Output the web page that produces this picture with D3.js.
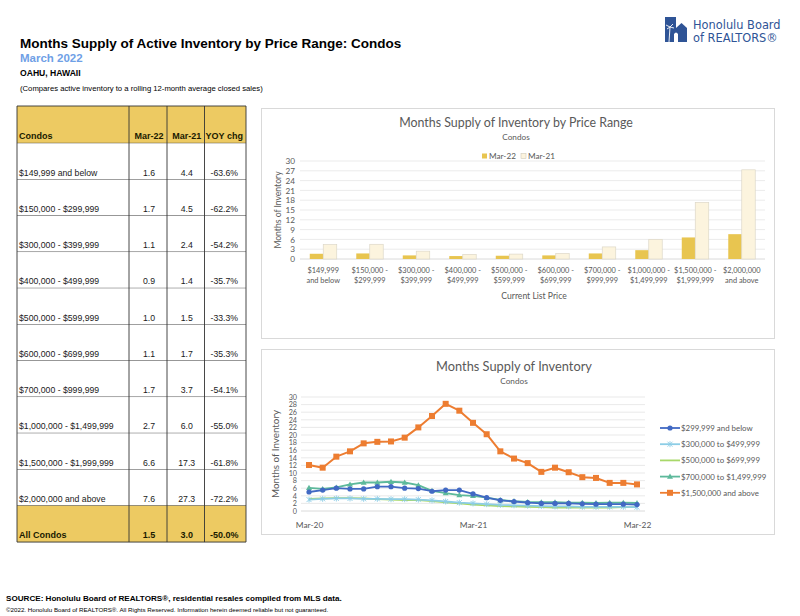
<!DOCTYPE html>
<html><head><meta charset="utf-8">
<script src="https://cdn.jsdelivr.net/npm/d3@7/dist/d3.min.js"></script>
<style>
html,body{margin:0;padding:0;background:#fff;}
svg{display:block;}
</style></head>
<body>
<svg id="c" width="800" height="616"></svg>
<script>
// ---------------- DATA ----------------
const priceRanges = ["$149,999 and below","$150,000 - $299,999","$300,000 - $399,999","$400,000 - $499,999","$500,000 - $599,999","$600,000 - $699,999","$700,000 - $999,999","$1,000,000 - $1,499,999","$1,500,000 - $1,999,999","$2,000,000 and above"];
const mar22 = [1.6,1.7,1.1,0.9,1.0,1.1,1.7,2.7,6.6,7.6];
const mar21 = [4.4,4.5,2.4,1.4,1.5,1.7,3.7,6.0,17.3,27.3];
const yoyChg = ["-63.6%","-62.2%","-54.2%","-35.7%","-33.3%","-35.3%","-54.1%","-55.0%","-61.8%","-72.2%"];
const allCondos = ["All Condos","1.5","3.0","-50.0%"];
const tableHeader = ["Condos","Mar-22","Mar-21","YOY chg"];

const barCatLabels = [["$149,999","and below"],["$150,000 -","$299,999"],["$300,000 -","$399,999"],["$400,000 -","$499,999"],["$500,000 -","$599,999"],["$600,000 -","$699,999"],["$700,000 -","$999,999"],["$1,000,000 -","$1,499,999"],["$1,500,000 -","$1,999,999"],["$2,000,000","and above"]];
const barSeries = ["Mar-22","Mar-21"];
const barTicks = [0,3,6,9,12,15,18,21,24,27,30];

const months = ["Mar-20","Apr-20","May-20","Jun-20","Jul-20","Aug-20","Sep-20","Oct-20","Nov-20","Dec-20","Jan-21","Feb-21","Mar-21","Apr-21","May-21","Jun-21","Jul-21","Aug-21","Sep-21","Oct-21","Nov-21","Dec-21","Jan-22","Feb-22","Mar-22"];
const monthTicks = ["Mar-20","Mar-21","Mar-22"];
const lineTicks = [0,2,4,6,8,10,12,14,16,18,20,22,24,26,28,30];
const lineNames = ["$299,999 and below","$300,000 to $499,999","$500,000 to $699,999","$700,000 to $1,499,999","$1,500,000 and above"];
const s299 = [5.0,5.5,6.0,5.8,5.8,6.4,6.4,6.0,5.9,5.2,5.5,5.5,4.5,3.5,2.8,2.5,2.2,2.0,2.0,2.0,1.9,1.8,1.8,1.8,1.7];
const s499 = [3.0,3.2,3.3,3.3,3.2,3.2,3.1,3.1,3.0,2.8,2.5,2.2,2.0,1.8,1.6,1.5,1.4,1.3,1.2,1.2,1.1,1.1,1.1,1.1,1.0];
const s699 = [3.2,3.3,3.4,3.4,3.3,3.1,3.0,2.9,2.9,2.6,2.3,2.0,1.7,1.5,1.3,1.2,1.1,1.0,0.9,0.9,0.9,0.9,0.9,1.0,1.0];
const s1499 = [6.1,5.8,6.2,7.0,7.5,7.5,7.7,7.5,6.8,5.3,4.7,4.2,4.0,3.5,2.9,2.6,2.4,2.3,2.3,2.2,2.2,2.1,2.2,2.2,2.1];
const s1500 = [12.1,11.4,14.3,15.7,17.8,18.2,18.3,19.3,22.0,25.0,28.2,26.4,23.2,20.2,15.7,13.8,12.6,10.3,11.4,10.2,8.9,8.7,7.4,7.4,7.0];
const lineData = [s299,s499,s699,s1499,s1500];

// ---------------- STYLE ----------------
const gold = "#EDCA62", barGold = "#E8C550", cream = "#FCF4DE";
const lineColors = ["#4169C3","#8CCDE6","#A8D86A","#5DB99B","#ED7D31"];
const lineMarkers = ["circle","cross","none","triangle","square"];
const chartFont = "Lato, 'Open Sans', sans-serif";
const gray = "#595959";

const svg = d3.select("#c");

// ---------------- HEADER ----------------
svg.append("text").attr("x",20).attr("y",48).attr("font-family","Liberation Sans, Arial").attr("font-weight","bold").attr("font-size",13.5).attr("fill","#000").text("Months Supply of Active Inventory by Price Range: Condos");
svg.append("text").attr("x",20).attr("y",62).attr("font-family","Liberation Sans, Arial").attr("font-weight","bold").attr("font-size",11.5).attr("fill","#6FA0E6").text("March 2022");
svg.append("text").attr("x",20).attr("y",76).attr("font-family","Liberation Sans, Arial").attr("font-weight","bold").attr("font-size",8.6).attr("fill","#000").text("OAHU, HAWAII");
svg.append("text").attr("x",20).attr("y",91).attr("font-family","Liberation Sans, Arial").attr("font-size",7.7).attr("fill","#000").text("(Compares active inventory to a rolling 12-month average closed sales)");

// logo
const logo = svg.append("g").attr("fill","#2F5496");
logo.append("rect").attr("x",665).attr("y",17).attr("width",11).attr("height",25);
logo.append("path").attr("d","M676 42 L676 28 L681.5 23 L687 28 L687 42 Z");
logo.append("path").attr("d","M674 42 L674 34 Q676 31 678 34 L678 42 Z").attr("fill","#fff");
logo.append("path").attr("d","M669 42 L670 27 M670 27 L666 25 M670 27 L673 24 M670 27 L667 29 M670 27 L674 28").attr("stroke","#fff").attr("stroke-width",0.9).attr("fill","none");
logo.append("text").attr("x",693).attr("y",29).attr("font-family","DejaVu Sans, Verdana").attr("font-size",11.4).attr("fill","#2F5496").text("Honolulu Board");
logo.append("text").attr("x",693).attr("y",41.5).attr("font-family","DejaVu Sans, Verdana").attr("font-size",11.4).attr("fill","#2F5496").text("of REALTORS®");

// ---------------- TABLE ----------------
const colX = [17,129,167,204.5,246];
const tTop = 106, hdrH = 37.3, rowH = 36.25;
const tbl = svg.append("g").attr("font-family","Liberation Sans, Arial");
const rows = priceRanges.map((p,i)=>[p, mar22[i].toFixed(1), mar21[i].toFixed(1), yoyChg[i]]);
const allRows = [tableHeader].concat(rows).concat([allCondos]);
allRows.forEach((r,i)=>{
  const y0 = i===0 ? tTop : tTop + hdrH + (i-1)*rowH;
  const h = i===0 ? hdrH : rowH;
  const isGold = (i===0 || i===allRows.length-1);
  tbl.append("rect").attr("x",colX[0]).attr("y",y0).attr("width",colX[4]-colX[0]).attr("height",h).attr("fill",isGold?gold:"#fff");
  r.forEach((t,j)=>{
    const bold = isGold;
    const tx = j===0 ? colX[0]+2 : (colX[j]+colX[j+1])/2 + (j===3?-1:1);
    tbl.append("text").attr("x",tx).attr("y",y0+h-4)
      .attr("text-anchor",j===0?"start":"middle")
      .attr("font-size", bold?9:8.7).attr("font-weight",bold?"bold":"normal")
      .attr("fill",bold?"#1a1a00":"#1a1a1a").text(t);
  });
  tbl.append("line").attr("x1",colX[0]).attr("x2",colX[4]).attr("y1",y0+h).attr("y2",y0+h).attr("stroke","#333").attr("stroke-width",0.9);
});
const tBottom = tTop + hdrH + 11*rowH;
tbl.append("line").attr("x1",colX[0]).attr("x2",colX[4]).attr("y1",tTop).attr("y2",tTop).attr("stroke","#333").attr("stroke-width",0.9);
colX.forEach(x=>tbl.append("line").attr("x1",x).attr("x2",x).attr("y1",tTop).attr("y2",tBottom).attr("stroke","#333").attr("stroke-width",0.9));

// ---------------- PANELS ----------------
svg.append("rect").attr("x",261.5).attr("y",108.5).attr("width",513).attr("height",230).attr("fill","#fff").attr("stroke","#D9D9D9");
svg.append("rect").attr("x",261.5).attr("y",349.5).attr("width",513).attr("height",185).attr("fill","#fff").attr("stroke","#D9D9D9");

// ---------------- BAR CHART ----------------
const bg = svg.append("g").attr("font-family",chartFont);
bg.append("text").attr("x",516).attr("y",127).attr("text-anchor","middle").attr("font-size",12.4).attr("fill",gray).text("Months Supply of Inventory by Price Range");
bg.append("text").attr("x",516).attr("y",140).attr("text-anchor","middle").attr("font-size",8.2).attr("fill",gray).text("Condos");

const xb = d3.scaleBand().domain(priceRanges).range([300,765]);
const yb = d3.scaleLinear().domain([0,30]).range([259,161]);
const xs = d3.scaleBand().domain(barSeries).range([xb.bandwidth()*0.21, xb.bandwidth()*0.79]);

bg.append("g").selectAll("line").data(barTicks).join("line")
  .attr("x1",300).attr("x2",765).attr("y1",d=>yb(d)).attr("y2",d=>yb(d))
  .attr("stroke",d=>d===0?"#D0D0D0":"#E6E6E6").attr("stroke-width",0.8);
const yAxB = bg.append("g").attr("transform","translate(300,0)").call(d3.axisLeft(yb).tickValues(barTicks).tickSize(0).tickPadding(5));
yAxB.select(".domain").remove();
yAxB.selectAll("text").attr("font-size",8.2).attr("fill",gray).attr("font-family",chartFont);

const barVals = [mar22, mar21];
barSeries.forEach((s,si)=>{
  bg.append("g").selectAll("rect").data(priceRanges).join("rect")
    .attr("x",d=>xb(d)+xs(s)).attr("width",xs.bandwidth())
    .attr("y",(d,i)=>yb(barVals[si][i])).attr("height",(d,i)=>yb(0)-yb(barVals[si][i]))
    .attr("fill",si===0?barGold:cream).attr("stroke",si===0?"none":"#DDD8C8").attr("stroke-width",0.7);
});
const xlab = bg.append("g");
priceRanges.forEach((p,i)=>{
  const t = xlab.append("text").attr("x",xb(p)+xb.bandwidth()/2).attr("y",273).attr("text-anchor","middle").attr("font-size",7.4).attr("fill",gray);
  t.append("tspan").attr("x",xb(p)+xb.bandwidth()/2).attr("dy",0).text(barCatLabels[i][0]);
  t.append("tspan").attr("x",xb(p)+xb.bandwidth()/2).attr("dy",10.3).text(barCatLabels[i][1]);
});
bg.append("text").attr("x",534).attr("y",299).attr("text-anchor","middle").attr("font-size",8.6).attr("fill",gray).text("Current List Price");
bg.append("text").attr("transform","translate(281,210) rotate(-90)").attr("text-anchor","middle").attr("font-size",8.6).attr("fill",gray).text("Months of Inventory");
// legend
const lgB = bg.append("g");
[[482,"Mar-22",barGold,"none"],[521,"Mar-21",cream,"#CFCABB"]].forEach(d=>{
  lgB.append("rect").attr("x",d[0]).attr("y",153.5).attr("width",5).attr("height",5).attr("fill",d[2]).attr("stroke",d[3]).attr("stroke-width",0.6);
  lgB.append("text").attr("x",d[0]+7).attr("y",159).attr("font-size",8.2).attr("fill",gray).text(d[1]);
});

// ---------------- LINE CHART ----------------
const lg = svg.append("g").attr("font-family",chartFont);
lg.append("text").attr("x",514).attr("y",371).attr("text-anchor","middle").attr("font-size",12.8).attr("fill",gray).text("Months Supply of Inventory");
lg.append("text").attr("x",514).attr("y",384).attr("text-anchor","middle").attr("font-size",8.2).attr("fill",gray).text("Condos");

const xl = d3.scalePoint().domain(months).range([309,637]);
const yl = d3.scaleLinear().domain([0,30]).range([511,397]);
lg.append("g").selectAll("line").data(lineTicks).join("line")
  .attr("x1",301).attr("x2",645).attr("y1",d=>yl(d)).attr("y2",d=>yl(d))
  .attr("stroke",d=>d===0?"#D0D0D0":"#E3E3E3").attr("stroke-width",0.8);
const yAxL = lg.append("g").attr("transform","translate(301,0)").call(d3.axisLeft(yl).tickValues(lineTicks).tickSize(0).tickPadding(4));
yAxL.select(".domain").remove();
yAxL.selectAll("text").attr("font-size",7.2).attr("fill",gray).attr("font-family",chartFont);
const xAxL = lg.append("g").attr("transform","translate(0,517)").call(d3.axisBottom(xl).tickValues(monthTicks).tickSize(0).tickPadding(5));
xAxL.select(".domain").remove();
xAxL.selectAll("text").attr("font-size",8.4).attr("fill",gray).attr("font-family",chartFont);
lg.append("text").attr("transform","translate(279,454) rotate(-90)").attr("text-anchor","middle").attr("font-size",9.8).attr("fill",gray).text("Months of Inventory");

const lineGen = d3.line().x((d,i)=>xl(months[i])).y(d=>yl(d));
function marker(g, type, x, y, col){
  if(type==="circle") g.append("circle").attr("cx",x).attr("cy",y).attr("r",2.6).attr("fill",col);
  else if(type==="square") g.append("rect").attr("x",x-3).attr("y",y-3).attr("width",6).attr("height",6).attr("fill",col);
  else if(type==="triangle") g.append("path").attr("d",`M${x},${y-3} L${x+3},${y+2.2} L${x-3},${y+2.2} Z`).attr("fill",col);
  else if(type==="cross") g.append("path").attr("d",`M${x-2.5},${y-2.5} L${x+2.5},${y+2.5} M${x-2.5},${y+2.5} L${x+2.5},${y-2.5} M${x},${y-3} L${x},${y+3}`).attr("stroke",col).attr("stroke-width",0.9);
}
const order = [2,1,3,0,4];
order.forEach(k=>{
  const g = lg.append("g");
  g.append("path").datum(lineData[k]).attr("d",lineGen).attr("fill","none").attr("stroke",lineColors[k]).attr("stroke-width",k===4?2:1.8).attr("stroke-linejoin","round");
  lineData[k].forEach((v,i)=>marker(g,lineMarkers[k],xl(months[i]),yl(v),lineColors[k]));
});
// legend
lineNames.forEach((n,k)=>{
  const y = 428 + k*16.2;
  const g = lg.append("g");
  g.append("line").attr("x1",660).attr("x2",680).attr("y1",y).attr("y2",y).attr("stroke",lineColors[k]).attr("stroke-width",1.8);
  marker(g,lineMarkers[k],670,y,lineColors[k]);
  g.append("text").attr("x",681).attr("y",y+3).attr("font-size",7.9).attr("fill",gray).text(n);
});

// ---------------- FOOTER ----------------
svg.append("text").attr("x",6).attr("y",601).attr("font-family","Liberation Sans, Arial").attr("font-weight","bold").attr("font-size",8.1).attr("fill","#000").text("SOURCE: Honolulu Board of REALTORS®, residential resales compiled from MLS data.");
svg.append("text").attr("x",6).attr("y",612).attr("font-family","Liberation Sans, Arial").attr("font-size",6.2).attr("fill","#000").text("©2022. Honolulu Board of REALTORS®. All Rights Reserved. Information herein deemed reliable but not guaranteed.");
</script>
</body></html>
